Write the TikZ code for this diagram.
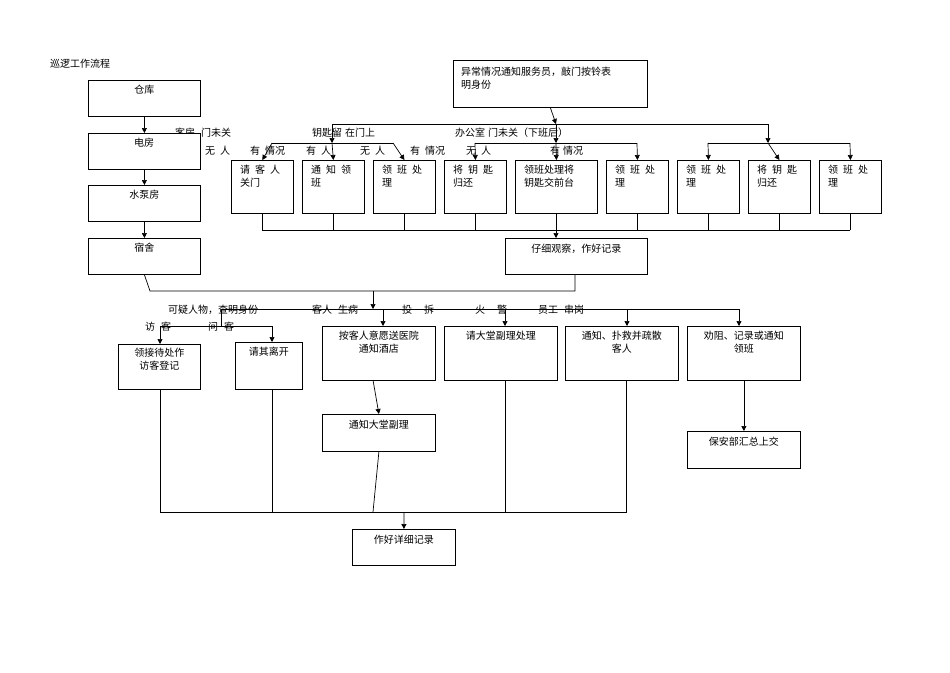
\documentclass[tikz,border=0pt]{standalone}
\usepackage{fontspec}
\setmainfont{Noto Sans CJK SC}
\usetikzlibrary{arrows.meta}
\begin{document}
\begin{tikzpicture}[x=1pt,y=-1pt,
  bx/.style={draw,line width=0.8pt,anchor=north west,inner sep=0pt},
  tx/.style={anchor=north,inner sep=0pt,font=\fontsize{10}{12.5}\selectfont,align=center},
  tl/.style={anchor=north west,inner sep=0pt,font=\fontsize{10}{12.5}\selectfont,align=left},
  lb/.style={anchor=base west,inner sep=0pt,font=\fontsize{10}{12}\selectfont},
  ln/.style={line width=0.7pt},
  ar/.style={line width=0.7pt,-{Triangle[length=5pt,width=5pt]}}]
\useasboundingbox (0,0) rectangle (950,672);
\node[lb] (title) at (50,67) {巡逻工作流程};
% left column
\foreach \n/\y/\t in {ck/80/仓库,df/133/电房,sb/185/水泵房,ss/238/宿舍}{
  \node[bx,minimum width=112pt,minimum height=36pt] (\n) at (88,\y) {};
  \node[tx] at ([yshift=-5pt]\n.north) {\t};
}
\draw[ar] (ck.south) -- (df.north);
\draw[ar] (df.south) -- (sb.north);
\draw[ar] (sb.south) -- (ss.north);
% top box
\node[bx,minimum width=194pt,minimum height=47pt] (top) at (453,60) {};
\node[tl] at ([shift={(8pt,-7pt)}]top.north west) {异常情况通知服务员，敲门按铃表\\明身份};
% row labels
\node[lb] (l1) at (175,136) {客房\hspace{6pt}门未关};
\node[lb] (l2) at (312,136) {钥匙留\hspace{3pt}在门上};
\node[lb] (l3) at (455,136) {办公室\hspace{3pt}门未关（下班后）};
\node[lb] at (205,154) {无\hspace{5pt}人};
\node[lb] at (250,154) {有\hspace{5pt}情况};
\node[lb] at (306,154) {有\hspace{5pt}人};
\node[lb] at (360,154) {无\hspace{5pt}人};
\node[lb] at (410,154) {有\hspace{5pt}情况};
\node[lb] at (466,154) {无\hspace{5pt}人};
\node[lb] at (550,154) {有\hspace{3pt}情况};
% redraw 电房 box over label
\node[bx,fill=white,minimum width=112pt,minimum height=36pt] at (88,133) {};
\node[tx] at (144,138) {电房};
% row of boxes
\foreach \n/\x/\w/\t in {
 b1/231/62/{请\hspace{5pt}客\hspace{5pt}人\\关门},
 b2/302/62/{通\hspace{5pt}知\hspace{5pt}领\\班},
 b3/373/62/{领\hspace{5pt}班\hspace{5pt}处\\理},
 b4/444/62/{将\hspace{5pt}钥\hspace{5pt}匙\\归还},
 b5/515/82/{领班处理将\\钥匙交前台},
 b6/606/62/{领\hspace{5pt}班\hspace{5pt}处\\理},
 b7/677/62/{领\hspace{5pt}班\hspace{5pt}处\\理},
 b8/748/62/{将\hspace{5pt}钥\hspace{5pt}匙\\归还},
 b9/819/62/{领\hspace{5pt}班\hspace{5pt}处\\理}}{
  \node[bx,minimum width=\w pt,minimum height=53pt] (\n) at (\x,160) {};
  \node[tl] at ([shift={(9pt,-5pt)}]\n.north west) {\t};
}
% top connectors
\coordinate (h1) at (332,124); \coordinate (h3) at (768,124);
\coordinate (m) at (556,124);
\draw[ar] (top.south) -- (m);
\draw[ln] (h1) -- (h3);
\draw[ar] (h1) -- (332,143); \draw[ar] (332,143) -- (b2.north);
\draw[ar] (m) -- (556,143); \draw[ar] (556,143) -- (b5.north);
\draw[ar] (h3) -- (768,143); \draw[ar] (768,143) -- (b8.north);
\draw[ln] (272,143) -- (393,143);
\draw[ar] (272,143) -- (b1.north); \draw[ar] (393,143) -- (b3.north);
\draw[ln] (475,143) -- (637,143);
\draw[ar] (475,143) -- (b4.north); \draw[ar] (637,143) -- (b6.north);
\draw[ln] (708,143) -- (850,143);
\draw[ar] (708,143) -- (b7.north); \draw[ar] (850,143) -- (b9.north);
% gather
\foreach \n in {b1,b2,b3,b4,b5,b6,b7,b8,b9}{ \draw[ln] (\n.south) -- (\n.south |- 0,230); }
\draw[ln] (b1.south |- 0,230) -- (b9.south |- 0,230);
\node[bx,minimum width=142pt,minimum height=36pt] (obs) at (505,238) {};
\node[tx] at ([yshift=-6pt]obs.north) {仔细观察，作好记录};
\draw[ar] (556,230) -- (556,238);
% lower tree
\draw[ln] (ss.south) -- (150,291) -- (575,291) -- (575,274);
\coordinate (g) at (373,309);
\draw[ar] (373,291) -- (g);
\draw[ln] (221,309) -- (739,309);
\node[bx,minimum width=82pt,minimum height=45pt] (c1) at (118,344) {};
\node[tx] at ([yshift=-4pt]c1.north) {领接待处作\\访客登记};
\node[bx,minimum width=67pt,minimum height=47pt] (c2) at (235,342) {};
\node[tx] at ([yshift=-5pt]c2.north) {请其离开};
\foreach \n/\x/\t in {c3/322/{按客人意愿送医院\\通知酒店},c4/444/{请大堂副理处理},c5/565/{通知、扑救并疏散\\客人},c6/687/{劝阻、记录或通知\\领班}}{
  \node[bx,minimum width=113pt,minimum height=54pt] (\n) at (\x,326) {};
  \node[tx] at ([yshift=-5pt]\n.north) {\t};
}
\draw[ar] (383,309) -- (383,326);
\draw[ar] (505,309) -- (505,326);
\draw[ar] (627,309) -- (627,326);
\draw[ar] (739,309) -- (739,326);
\draw[ln] (221,309) -- (221,326);
\draw[ln] (160,326) -- (272,326);
\draw[ar] (160,326) -- (160,344);
\draw[ar] (272,326) -- (272,342);
\node[lb] at (168,313) {可疑人物，查明身份};
\node[lb] at (312,313) {客人\hspace{6pt}生病};
\node[lb] at (402,313) {投\hspace{12pt}拆};
\node[lb] at (475,313) {火\hspace{12pt}警};
\node[lb] at (538,313) {员工\hspace{6pt}串岗};
\node[lb] at (145,330) {访\hspace{6pt}客};
\node[lb] at (208,330) {问\hspace{6pt}客};
\node[bx,minimum width=113pt,minimum height=37pt] (d1) at (322,414) {};
\node[tx] at ([yshift=-6pt]d1.north) {通知大堂副理};
\node[bx,minimum width=113pt,minimum height=37pt] (d2) at (687,431) {};
\node[tx] at ([yshift=-6pt]d2.north) {保安部汇总上交};
\draw[ar] (373,380) -- (d1.north);
\draw[ar] (c6.south) -- (d2.north);
\node[bx,minimum width=103pt,minimum height=36pt] (fin) at (352,529) {};
\node[tx] at ([yshift=-6pt]fin.north) {作好详细记录};
\draw[ln] (160,389) -- (160,512) -- (626,512) -- (626,380);
\draw[ln] (272,389) -- (272,512);
\draw[ln] (d1.south) -- (373,512);
\draw[ln] (505,380) -- (505,512);
\draw[ar] (404,512) -- (fin.north);
\end{tikzpicture}
\end{document}
